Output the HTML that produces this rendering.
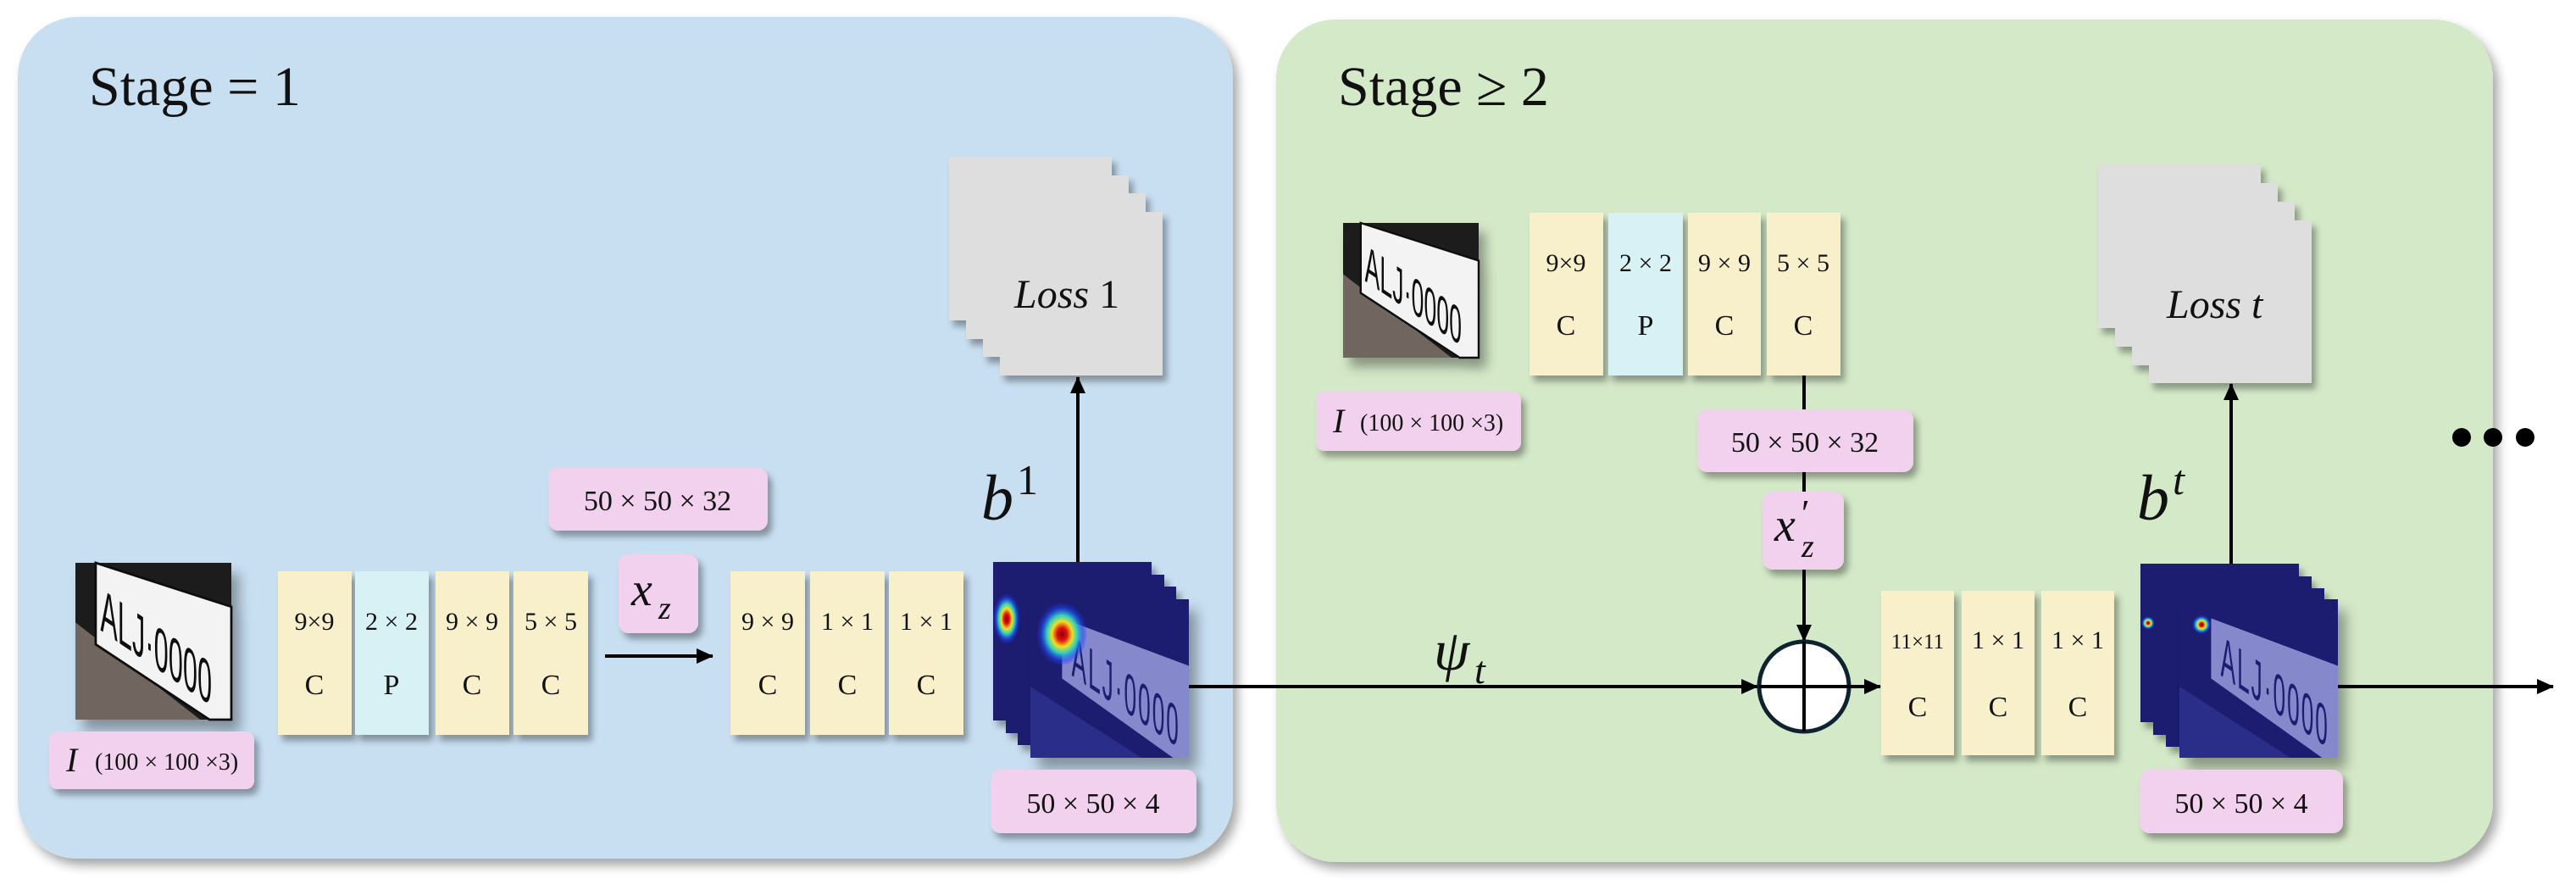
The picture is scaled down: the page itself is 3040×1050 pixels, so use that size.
<!DOCTYPE html>
<html><head><meta charset="utf-8"><style>
html,body{margin:0;padding:0;background:#fff;}
svg{display:block;}
text{font-family:"Liberation Serif",serif;fill:#111;}
</style></head><body>
<svg width="3040" height="1050" viewBox="0 0 3040 1050" xmlns="http://www.w3.org/2000/svg">
<defs>
<filter id="sh" x="-20%" y="-20%" width="150%" height="150%"><feDropShadow dx="5" dy="7" stdDeviation="4" flood-color="#000" flood-opacity="0.35"/></filter>
<filter id="psh" x="-5%" y="-5%" width="115%" height="115%"><feDropShadow dx="6" dy="8" stdDeviation="6" flood-color="#000" flood-opacity="0.35"/></filter>
<radialGradient id="heat">
<stop offset="0" stop-color="#8b0000"/><stop offset="0.2" stop-color="#e01010"/><stop offset="0.4" stop-color="#f0e020"/><stop offset="0.6" stop-color="#30d0c0"/><stop offset="0.85" stop-color="#2040ff" stop-opacity="0.5"/><stop offset="1" stop-color="#2040ff" stop-opacity="0"/>
</radialGradient>
<marker id="ar" markerWidth="20" markerHeight="18" refX="19" refY="9" orient="auto" markerUnits="userSpaceOnUse"><path d="M0,0 L20,9 L0,18 z" fill="#000"/></marker>
</defs>

<rect x="21" y="20" width="1434" height="993" rx="70" fill="#c8dff2" filter="url(#psh)"/>
<rect x="1506" y="23" width="1436" height="994" rx="70" fill="#d4e9c8" filter="url(#psh)"/>

<text x="105" y="124" font-size="66">Stage = 1</text>
<text x="1579" y="124" font-size="66">Stage ≥ 2</text>

<!-- Stage 1 plate -->
<svg x="89" y="664" width="184" height="185" viewBox="0 0 100 100" preserveAspectRatio="none" filter="url(#sh)">
<rect width="100" height="100" fill="#1c1c1c"/>
<polygon points="0,38 80,100 0,100" fill="#6f665f"/>
<polygon points="13,0 100,28 100,100 86,100 13,52" fill="#f3f3f3" stroke="#111" stroke-width="1.5"/>
<text transform="translate(16,43) skewY(34) scale(0.55,1.3)" font-size="30" textLength="130" style="font-family:'Liberation Sans',sans-serif">ALJ·0000</text>
</svg>
<rect x="58" y="863" width="242" height="68" rx="10" fill="#f1d1ee" filter="url(#sh)"/>
<text x="78" y="910" font-size="40" font-style="italic">I</text>
<text x="112" y="908" font-size="28">(100 × 100 ×3)</text>

<g filter="url(#sh)">
<rect x="328" y="674" width="87" height="193" fill="#f8efcb"/>
<rect x="419" y="674" width="87" height="193" fill="#d8f1f5"/>
<rect x="514" y="674" width="87" height="193" fill="#f8efcb"/>
<rect x="606" y="674" width="88" height="193" fill="#f8efcb"/>
</g>
<g font-size="30" text-anchor="middle">
<text x="371" y="743">9×9</text><text x="462" y="743">2 × 2</text><text x="557" y="743">9 × 9</text><text x="650" y="743">5 × 5</text>
</g>
<g font-size="34" text-anchor="middle">
<text x="371" y="819">C</text><text x="462" y="819">P</text><text x="557" y="819">C</text><text x="650" y="819">C</text>
</g>

<rect x="647" y="552" width="259" height="74" rx="12" fill="#f1d1ee" filter="url(#sh)"/>
<text x="776" y="602" font-size="34" text-anchor="middle">50 × 50 × 32</text>
<rect x="730" y="654" width="94" height="93" rx="12" fill="#f1d1ee" filter="url(#sh)"/>
<text x="745" y="714" font-size="56" font-style="italic">x</text><text x="777" y="730" font-size="38" font-style="italic">z</text>
<line x1="714" y1="774" x2="841" y2="774" stroke="#000" stroke-width="4" marker-end="url(#ar)"/>

<g filter="url(#sh)">
<rect x="862" y="674" width="88" height="193" fill="#f8efcb"/>
<rect x="956" y="674" width="88" height="193" fill="#f8efcb"/>
<rect x="1049" y="674" width="88" height="193" fill="#f8efcb"/>
</g>
<g font-size="30" text-anchor="middle">
<text x="906" y="743">9 × 9</text><text x="1000" y="743">1 × 1</text><text x="1093" y="743">1 × 1</text>
</g>
<g font-size="34" text-anchor="middle">
<text x="906" y="819">C</text><text x="1000" y="819">C</text><text x="1093" y="819">C</text>
</g>

<g filter="url(#sh)">
<rect x="1120" y="185" width="192" height="193" fill="#dedede"/>
<rect x="1140" y="207" width="192" height="193" fill="#dedede"/>
<rect x="1160" y="228" width="192" height="193" fill="#dedede"/>
<rect x="1180" y="250" width="192" height="193" fill="#dedede"/>
</g>
<text x="1197" y="363" font-size="48"><tspan font-style="italic">Loss</tspan> 1</text>

<g filter="url(#sh)">
<rect x="1172" y="663" width="187" height="187" fill="#1b1e70"/>
<rect x="1187" y="678" width="187" height="187" fill="#1b1e70"/>
<rect x="1201" y="692" width="187" height="187" fill="#1b1e70"/>
</g>
<ellipse cx="1188" cy="730" rx="16" ry="30" fill="url(#heat)"/>
<svg x="1216" y="707" width="187" height="187" viewBox="0 0 100 100" preserveAspectRatio="none" filter="url(#sh)">
<rect width="100" height="100" fill="#1b1e70"/>
<polygon points="0,55 70,100 0,100" fill="#2a2e88"/>
<polygon points="20,12 100,42 100,100 90,100 20,50" fill="#8688cc"/>
<text transform="translate(26,48) skewY(34) scale(0.5,1.3)" font-size="28" textLength="135" style="font-family:'Liberation Sans',sans-serif;fill:#1b1e70">ALJ·0000</text>
<ellipse cx="20" cy="22" rx="16" ry="20" fill="url(#heat)"/>
</svg>
<rect x="1169" y="908" width="243" height="75" rx="12" fill="#f1d1ee" filter="url(#sh)"/>
<text x="1290" y="959" font-size="34" text-anchor="middle">50 × 50 × 4</text>
<line x1="1272" y1="663" x2="1272" y2="445" stroke="#000" stroke-width="4" marker-end="url(#ar)"/>
<text x="1158" y="613" font-size="76" font-style="italic">b</text><text x="1200" y="583" font-size="50">1</text>

<line x1="1403" y1="810" x2="2074" y2="810" stroke="#000" stroke-width="4" marker-end="url(#ar)"/>
<text x="1692" y="790" font-size="68" font-style="italic">ψ</text><text x="1740" y="806" font-size="46" font-style="italic">t</text>

<svg x="1585" y="263" width="160" height="159" viewBox="0 0 100 100" preserveAspectRatio="none" filter="url(#sh)">
<rect width="100" height="100" fill="#1c1c1c"/>
<polygon points="0,38 80,100 0,100" fill="#6f665f"/>
<polygon points="13,0 100,28 100,100 86,100 13,52" fill="#f3f3f3" stroke="#111" stroke-width="1.5"/>
<text transform="translate(16,43) skewY(34) scale(0.55,1.3)" font-size="30" textLength="130" style="font-family:'Liberation Sans',sans-serif">ALJ·0000</text>
</svg>
<rect x="1553" y="462" width="242" height="70" rx="10" fill="#f1d1ee" filter="url(#sh)"/>
<text x="1573" y="510" font-size="40" font-style="italic">I</text>
<text x="1605" y="508" font-size="28">(100 × 100 ×3)</text>

<g filter="url(#sh)">
<rect x="1805" y="251" width="87" height="192" fill="#f8efcb"/>
<rect x="1898" y="251" width="88" height="192" fill="#d8f1f5"/>
<rect x="1992" y="251" width="86" height="192" fill="#f8efcb"/>
<rect x="2085" y="251" width="87" height="192" fill="#f8efcb"/>
</g>
<g font-size="30" text-anchor="middle">
<text x="1848" y="320">9×9</text><text x="1942" y="320">2 × 2</text><text x="2035" y="320">9 × 9</text><text x="2128" y="320">5 × 5</text>
</g>
<g font-size="34" text-anchor="middle">
<text x="1848" y="395">C</text><text x="1942" y="395">P</text><text x="2035" y="395">C</text><text x="2128" y="395">C</text>
</g>
<line x1="2129" y1="443" x2="2129" y2="700" stroke="#000" stroke-width="4"/>
<rect x="2003" y="483" width="255" height="74" rx="12" fill="#f1d1ee" filter="url(#sh)"/>
<text x="2130" y="533" font-size="34" text-anchor="middle">50 × 50 × 32</text>
<rect x="2080" y="580" width="96" height="92" rx="12" fill="#f1d1ee" filter="url(#sh)"/>
<text x="2094" y="638" font-size="56" font-style="italic">x</text><text x="2126" y="620" font-size="44">′</text><text x="2126" y="657" font-size="38" font-style="italic">z</text>
<line x1="2129" y1="672" x2="2129" y2="756" stroke="#000" stroke-width="4" marker-end="url(#ar)"/>
<circle cx="2129" cy="810" r="53" fill="#fff" stroke="#0d2430" stroke-width="5"/>
<line x1="2076" y1="810" x2="2182" y2="810" stroke="#000" stroke-width="4"/>
<line x1="2129" y1="757" x2="2129" y2="863" stroke="#000" stroke-width="4"/>
<line x1="2182" y1="810" x2="2219" y2="810" stroke="#000" stroke-width="4" marker-end="url(#ar)"/>

<g filter="url(#sh)">
<rect x="2220" y="697" width="86" height="194" fill="#f8efcb"/>
<rect x="2315" y="697" width="86" height="194" fill="#f8efcb"/>
<rect x="2409" y="697" width="86" height="194" fill="#f8efcb"/>
</g>
<g text-anchor="middle">
<text x="2263" y="765" font-size="25">11×11</text><text x="2358" y="765" font-size="30">1 × 1</text><text x="2452" y="765" font-size="30">1 × 1</text>
</g>
<g font-size="34" text-anchor="middle">
<text x="2263" y="845">C</text><text x="2358" y="845">C</text><text x="2452" y="845">C</text>
</g>

<g filter="url(#sh)">
<rect x="2476" y="194" width="192" height="193" fill="#dedede"/>
<rect x="2496" y="216" width="192" height="193" fill="#dedede"/>
<rect x="2516" y="238" width="192" height="193" fill="#dedede"/>
<rect x="2536" y="260" width="192" height="192" fill="#dedede"/>
</g>
<text x="2557" y="375" font-size="48" font-style="italic">Loss t</text>

<g filter="url(#sh)">
<rect x="2526" y="665" width="187" height="187" fill="#1b1e70"/>
<rect x="2541" y="680" width="187" height="187" fill="#1b1e70"/>
<rect x="2556" y="694" width="187" height="187" fill="#1b1e70"/>
</g>
<circle cx="2535" cy="735" r="8" fill="url(#heat)"/>
<svg x="2572" y="707" width="187" height="187" viewBox="0 0 100 100" preserveAspectRatio="none" filter="url(#sh)">
<rect width="100" height="100" fill="#1b1e70"/>
<polygon points="0,55 70,100 0,100" fill="#2a2e88"/>
<polygon points="20,12 100,42 100,100 90,100 20,50" fill="#8688cc"/>
<text transform="translate(26,48) skewY(34) scale(0.5,1.3)" font-size="28" textLength="135" style="font-family:'Liberation Sans',sans-serif;fill:#1b1e70">ALJ·0000</text>
<circle cx="14" cy="16" r="6" fill="url(#heat)"/>
</svg>
<rect x="2525" y="908" width="240" height="75" rx="12" fill="#f1d1ee" filter="url(#sh)"/>
<text x="2645" y="959" font-size="34" text-anchor="middle">50 × 50 × 4</text>
<line x1="2633" y1="665" x2="2633" y2="453" stroke="#000" stroke-width="4" marker-end="url(#ar)"/>
<text x="2522" y="613" font-size="76" font-style="italic">b</text><text x="2564" y="583" font-size="50" font-style="italic">t</text>

<line x1="2759" y1="810" x2="3013" y2="810" stroke="#000" stroke-width="4" marker-end="url(#ar)"/>
<circle cx="2905" cy="516" r="11" fill="#000"/>
<circle cx="2942" cy="516" r="11" fill="#000"/>
<circle cx="2980" cy="516" r="11" fill="#000"/>
</svg>
</body></html>
